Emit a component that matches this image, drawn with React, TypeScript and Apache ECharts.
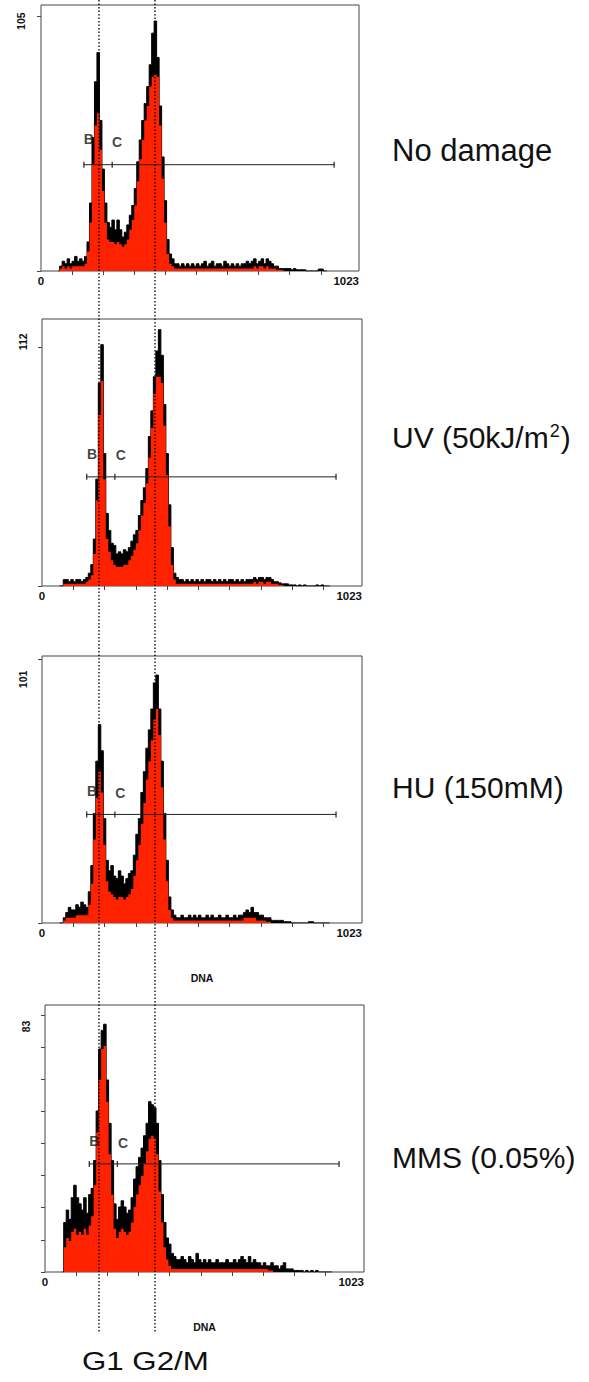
import { useEffect, useRef } from "react";
import * as echarts from "echarts";

// Histogram bins: channel centres start at CH_START, one every CH_STEP channels
const CH_START = 56;
const CH_STEP = 8;
const X_MAX = 1023;
const X_TICKS = [100, 200, 300, 400, 500, 600, 700, 800, 900];
const X_LABELS = [0, 1023];

// Panel 1: No damage
const p1Black = [
  0, 2, 4, 3, 5, 3, 4, 6,
  4, 5, 4, 6, 12, 28, 55, 78,
  90, 62, 42, 28, 20, 18, 21, 17,
  21, 17, 14, 16, 19, 23, 27, 34,
  45, 54, 62, 69, 76, 85, 98, 103,
  88, 68, 47, 29, 13, 7, 5, 3,
  3, 2, 3, 2, 3, 2, 3, 2,
  3, 2, 3, 4, 2, 3, 4, 2,
  3, 3, 2, 4, 3, 2, 3, 2,
  3, 2, 3, 3, 4, 3, 4, 5,
  3, 4, 5, 3, 5, 4, 3, 2,
  2, 1, 1, 1, 1, 1, 0.5, 1,
  0.5, 0.5, 0.5, 0.5, 0, 0, 0, 0,
  0, 0.8, 0.8, 0, 0,
];
const p1Red = [
  0, 1, 2, 1, 2, 1, 2, 2,
  2, 2, 2, 3, 8, 20, 44, 60,
  65, 50, 33, 20, 13, 12, 12, 11,
  12, 11, 10, 11, 13, 17, 21, 27,
  37, 46, 54, 62, 68, 76, 80, 81,
  80, 60, 38, 20, 7, 3, 2, 1,
  1, 1, 1, 1, 1, 1, 1, 1,
  1, 1, 1, 1, 1, 1, 1, 1,
  1, 1, 1, 1, 1, 1, 1, 1,
  1, 1, 1, 1, 1, 1, 1, 2,
  1, 2, 2, 1, 2, 1, 1, 1,
  0.5, 0.5, 0.5, 0, 0, 0, 0, 0,
];
const p1YTicks = [0, 105];
const p1YLabel = [105];
const p1YMax = 109.6;
const p1Gate = [138, 229, 943];
const p1GateLevel = 43.8;
const p1GateLabels = [[154, 54.2], [245, 53.2]];

// Panel 2: UV
const p2Black = [
  0, 0, 3, 3, 2, 3, 2, 3,
  3, 2, 3, 4, 6, 10, 22, 50,
  95, 113, 62, 34, 26, 20, 19, 15,
  16, 15, 17, 16, 18, 21, 24, 26,
  33, 40, 46, 55, 70, 82, 98, 110,
  120, 108, 85, 62, 38, 18, 6, 4,
  3, 3, 2, 3, 2, 3, 2, 3,
  2, 3, 2, 3, 3, 2, 3, 2,
  3, 2, 3, 2, 3, 3, 2, 3,
  2, 3, 2, 3, 3, 3, 4, 3,
  4, 4, 3, 4, 4, 3, 2, 2,
  1.5, 1, 1, 1, 0.5, 0.5, 0.5, 0,
  0.5, 0, 0.5, 0, 0, 0, 0, 0.5,
  0, 0.5, 0, 0, 0,
];
const p2Red = [
  0, 0, 1, 1, 1, 1, 1, 1,
  1, 1, 1, 2, 3, 5, 15, 40,
  80, 96, 50, 22, 16, 12, 10, 9,
  9, 9, 10, 10, 12, 14, 17, 20,
  26, 33, 39, 48, 60, 74, 90, 98,
  98, 95, 75, 52, 28, 10, 3, 1,
  1, 1, 1, 1, 1, 1, 1, 1,
  1, 1, 1, 1, 1, 1, 1, 1,
  1, 1, 1, 1, 1, 1, 1, 1,
  1, 1, 1, 1, 1, 1, 2, 1,
  2, 2, 1, 2, 2, 1, 1, 1,
  0.5, 0.5, 0, 0, 0, 0, 0, 0,
];
const p2YTicks = [0, 112];
const p2YLabel = [112];
const p2YMax = 125;
const p2Gate = [143, 233, 940];
const p2GateLevel = 51.1;
const p2GateLabels = [[160, 61.8], [252, 61.2]];

// Panel 3: HU
const p3Black = [
  0, 0, 2, 4, 6, 5, 5, 7,
  6, 8, 7, 6, 12, 22, 42, 62,
  76, 66, 40, 24, 20, 22, 18, 17,
  20, 18, 15, 17, 19, 20, 26, 34,
  40, 50, 58, 67, 74, 82, 92, 95,
  82, 62, 42, 24, 10, 5, 3, 2,
  2, 3, 2, 2, 3, 2, 3, 2,
  3, 2, 2, 3, 2, 3, 2, 2,
  3, 2, 2, 3, 2, 2, 3, 2,
  3, 3, 4, 5, 4, 6, 4, 4,
  3, 3, 2, 2, 2, 1, 1, 1,
  1, 1, 0.5, 0.5, 0.5, 0, 0, 0,
  0, 0, 0, 0, 0.5, 0.5, 0, 0,
  0, 0, 0, 0, 0,
];
const p3Red = [
  0, 0, 1, 2, 2, 2, 2, 3,
  3, 3, 3, 3, 7, 15, 32, 48,
  58, 50, 30, 16, 12, 11, 10, 9,
  10, 10, 9, 10, 11, 13, 18, 24,
  30, 38, 46, 55, 62, 70, 78, 82,
  72, 52, 32, 16, 5, 2, 1, 1,
  1, 1, 1, 1, 1, 1, 1, 1,
  1, 1, 1, 1, 1, 1, 1, 1,
  1, 1, 1, 1, 1, 1, 1, 1,
  1, 1, 2, 2, 2, 2, 2, 1,
  1, 1, 1, 0.5, 0.5, 0, 0, 0,
];
const p3YTicks = [0, 101];
const p3YLabel = [101];
const p3YMax = 102.3;
const p3Gate = [143, 233, 940];
const p3GateLevel = 41.6;
const p3GateLabels = [[160, 50.6], [250, 49.9]];

// Panel 4: MMS
const p4Black = [
  0, 16, 20, 17, 24, 28, 24, 22,
  20, 24, 19, 25, 27, 36, 52, 72,
  78, 80, 62, 48, 36, 22, 17, 21,
  23, 21, 19, 20, 24, 30, 34, 37,
  40, 44, 48, 55, 54, 53, 48, 36,
  25, 16, 11, 9, 6, 5, 4, 4,
  5, 4, 3, 5, 4, 3, 6, 4,
  3, 4, 3, 4, 3, 3, 4, 3,
  3, 3, 4, 3, 3, 4, 3, 4,
  5, 4, 3, 5, 3, 4, 3, 3,
  2, 3, 2, 2, 3, 2, 2, 1,
  2, 3, 1, 1, 1, 0.5, 0.5, 0.5,
  0.5, 0, 0.5, 0, 0.5, 0, 0.5, 0,
  0, 0, 0, 0, 0,
];
const p4Red = [
  0, 8, 11, 10, 13, 14, 12, 13,
  12, 14, 12, 15, 18, 28, 45, 62,
  72, 73, 55, 38, 25, 14, 11, 13,
  14, 13, 12, 13, 16, 21, 25, 28,
  31, 35, 39, 43, 44, 43, 38, 26,
  16, 8, 4, 2, 1, 1, 1, 1,
  1, 1, 1, 1, 1, 1, 1, 1,
  1, 1, 1, 1, 1, 1, 1, 1,
  1, 1, 1, 1, 1, 1, 1, 1,
  1, 1, 1, 1, 1, 1, 1, 1,
  1, 1, 1, 0.5, 0.5, 0, 0, 0,
];
const p4YTicks = [0, 10.375, 20.75, 31.125, 41.5, 51.875, 62.25, 72.625, 83];
const p4YLabel = [83];
const p4YMax = 86.2;
const p4Gate = [142, 232, 943];
const p4GateLevel = 34.9;
const p4GateLabels = [[158, 42.4], [250, 41.8]];

const conditions = ["No damage", "UV (50kJ/m", "HU (150mM)", "MMS (0.05%)"];
const gateNames = ["B", "C"];
const phaseLabel = "G1 G2/M";
const axisName = "DNA";

const FONT = 'Arial, "Liberation Sans", Helvetica, sans-serif';
const RED = "#ff2200";

const toPairs = (vals: number[]) => vals.map((v, i) => [CH_START + i * CH_STEP, v]);

export default function App() {
  const ref = useRef<HTMLDivElement>(null);
  useEffect(() => {
    if (!ref.current) return;
    const chart = echarts.init(ref.current, undefined, { renderer: "svg" });

    const panels = [
      { black: p1Black, red: p1Red, yTicks: p1YTicks, yLabel: p1YLabel, yMax: p1YMax, gate: p1Gate, lvl: p1GateLevel, gl: p1GateLabels,
        grid: { left: 41, top: 5, width: 318, height: 266 }, labelMargin: 15, labelPad: [0, 10, 0, 0], showName: false },
      { black: p2Black, red: p2Red, yTicks: p2YTicks, yLabel: p2YLabel, yMax: p2YMax, gate: p2Gate, lvl: p2GateLevel, gl: p2GateLabels,
        grid: { left: 42, top: 319, width: 320, height: 267 }, labelMargin: 13.5, labelPad: [0, 0, 0, 10], showName: false },
      { black: p3Black, red: p3Red, yTicks: p3YTicks, yLabel: p3YLabel, yMax: p3YMax, gate: p3Gate, lvl: p3GateLevel, gl: p3GateLabels,
        grid: { left: 42, top: 656, width: 320, height: 267 }, labelMargin: 13.5, labelPad: [0, 40, 0, 0], showName: true },
      { black: p4Black, red: p4Red, yTicks: p4YTicks, yLabel: p4YLabel, yMax: p4YMax, gate: p4Gate, lvl: p4GateLevel, gl: p4GateLabels,
        grid: { left: 45, top: 1005, width: 319, height: 267 }, labelMargin: 13.7, labelPad: [0, 23, 0, 0], showName: true },
    ];

    const grids = panels.map((p) => ({
      ...p.grid,
      show: true,
      borderColor: "#444",
      borderWidth: 1,
      backgroundColor: "#fff",
      containLabel: false,
    }));

    const xAxes = panels.map((p, i) => ({
      type: "value",
      gridIndex: i,
      min: 0,
      max: X_MAX,
      name: p.showName ? axisName : "",
      nameLocation: "middle",
      nameGap: 49,
      nameTextStyle: { fontFamily: FONT, fontSize: 10.5, fontWeight: "bold", color: "#111" },
      axisLine: { show: false },
      splitLine: { show: false },
      axisTick: { show: true, customValues: X_TICKS, length: 4, lineStyle: { color: "#444" } },
      axisLabel: {
        show: true,
        customValues: X_LABELS,
        formatter: (v: number) => String(v),
        margin: 4,
        fontFamily: FONT,
        fontSize: 11.5,
        fontWeight: "bold",
        color: "#111",
        alignMaxLabel: "right",
        alignMinLabel: "center",
      },
    }));

    const yAxes = panels.map((p, i) => ({
      type: "value",
      gridIndex: i,
      min: 0,
      max: p.yMax,
      axisLine: { show: false },
      splitLine: { show: false },
      axisTick: { show: true, customValues: p.yTicks, length: 4, lineStyle: { color: "#444" } },
      axisLabel: {
        show: true,
        customValues: p.yLabel,
        formatter: (v: number) => String(v),
        rotate: 90,
        margin: p.labelMargin,
        padding: p.labelPad,
        fontFamily: FONT,
        fontSize: 10.5,
        fontWeight: "bold",
        color: "#111",
      },
    }));

    const series: any[] = [];
    panels.forEach((p, i) => {
      series.push({
        type: "line",
        xAxisIndex: i,
        yAxisIndex: i,
        step: "middle",
        data: toPairs(p.black),
        symbol: "none",
        lineStyle: { color: "#000", width: 1 },
        areaStyle: { color: "#000", opacity: 1 },
        z: 2,
      });
      series.push({
        type: "line",
        xAxisIndex: i,
        yAxisIndex: i,
        step: "middle",
        data: toPairs(p.red),
        symbol: "none",
        lineStyle: { width: 0, opacity: 0 },
        areaStyle: { color: RED, opacity: 1 },
        z: 3,
      });
      series.push({
        type: "line",
        xAxisIndex: i,
        yAxisIndex: i,
        data: p.gate.map((x) => [x, p.lvl]),
        symbol: "rect",
        symbolSize: [1.2, 6],
        itemStyle: { color: "#222" },
        lineStyle: { color: "#222", width: 1 },
        z: 4,
      });
      series.push({
        type: "scatter",
        xAxisIndex: i,
        yAxisIndex: i,
        data: p.gl.map((v, k) => ({ value: v, name: gateNames[k] })),
        symbolSize: 1,
        itemStyle: { color: "rgba(0,0,0,0)" },
        label: {
          show: true,
          position: "inside",
          formatter: (d: any) => d.name,
          fontFamily: FONT,
          fontSize: 14,
          fontWeight: "bold",
          color: "#111",
        },
        z: 5,
      });
    });

    const dotted = (x: number) => ({
      type: "line",
      shape: { x1: x, y1: 0, x2: x, y2: 1333 },
      style: { stroke: "#000", lineWidth: 1.3, lineDash: [1.5, 2] },
      z: 100,
      silent: true,
    });

    const condText = (text: string, y: number, size: number, rich?: any) => ({
      type: "text",
      x: 392,
      y,
      style: {
        text,
        fontFamily: FONT,
        fontSize: size,
        fill: "#111",
        textVerticalAlign: "middle",
        textAlign: "left",
        rich,
      },
      z: 100,
    });

    chart.setOption({
      animation: false,
      backgroundColor: "#fff",
      grid: grids,
      xAxis: xAxes,
      yAxis: yAxes,
      series,
      graphic: [
        dotted(99),
        dotted(155),
        condText(conditions[0], 150, 31),
        condText(`{a|${conditions[1]}}{s|2}{a|)}`, 437, 30, {
          a: { fontFamily: FONT, fontSize: 30, fill: "#111" },
          s: { fontFamily: FONT, fontSize: 18, fill: "#111", verticalAlign: "top", padding: [0, 1, 12, 1] },
        }),
        condText(conditions[2], 787, 30),
        condText(conditions[3], 1157, 30),
        {
          type: "text",
          x: 82,
          y: 1361,
          scaleX: 1.25,
          style: {
            text: phaseLabel,
            fontFamily: FONT,
            fontSize: 25,
            fill: "#111",
            textVerticalAlign: "middle",
            textAlign: "left",
          },
          z: 100,
        },
      ],
    });

    return () => chart.dispose();
  }, []);

  return (
    <div
      ref={ref}
      style={{ position: "absolute", left: 0, top: 0, width: 589, height: 1382 }}
    />
  );
}
